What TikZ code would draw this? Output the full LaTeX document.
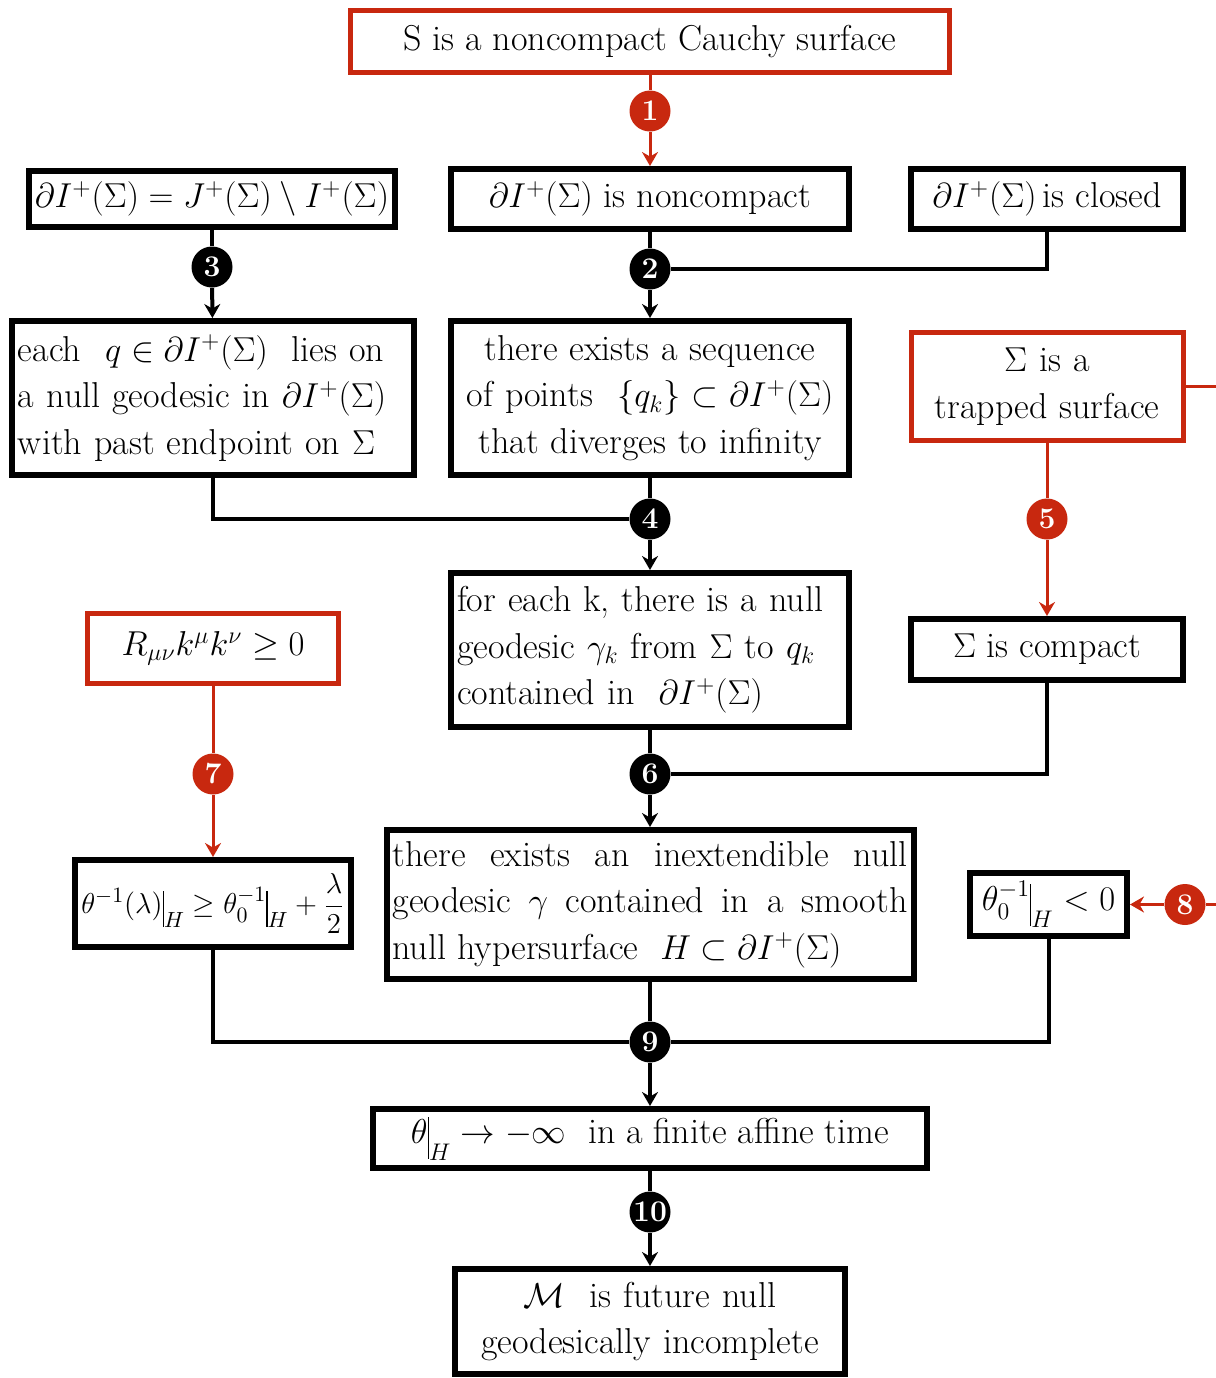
\documentclass[tikz,border=0pt]{standalone}
\usepackage{amsmath}
\usetikzlibrary{arrows.meta,positioning}
\definecolor{ruby}{RGB}{200,40,15}
\newcommand{\atbar}{\mathord{\vrule height 1.7ex depth 1.0ex width 0.7pt}}

\begin{document}
\begin{tikzpicture}
[x=0.5pt,y=-0.5pt,
 box/.style={draw,line width=3pt,inner sep=3pt,font=\fontsize{18}{23.25}\selectfont},
 redbox/.style={box,draw=ruby,line width=2.5pt},
 num/.style={circle,fill=black,text=white,minimum size=20.5pt,inner sep=0pt,font=\bfseries\fontsize{15}{15}\selectfont},
 rnum/.style={num,fill=ruby},
 link/.style={line width=2pt},
 rlink/.style={line width=1.5pt,draw=ruby},
 tip/.style={-{Stealth[length=7pt,width=8pt]}}]
\useasboundingbox (0,0) rectangle (1216,1378);
% boxes
\node[redbox,minimum width=299.5pt,minimum height=31pt] (cauchy) at (650,41.5) {S is a noncompact Cauchy surface};
\node[box,minimum width=183pt,minimum height=28pt] (bdry) at (212,199) {$\partial I^{+}(\Sigma)=J^{+}(\Sigma)\setminus I^{+}(\Sigma)$};
\node[box,minimum width=199pt,minimum height=30pt] (noncpt) at (650,199) {$\partial I^{+}(\Sigma)$ is noncompact};
\node[box,minimum width=136pt,minimum height=30pt] (closed) at (1047,199) {$\partial I^{+}(\Sigma)$\,is closed};
\node[box,text width=195pt,align=left,minimum height=77pt] (geod) at (213,398) {each~ $q\in\partial I^{+}(\Sigma)$ ~lies on\\a null geodesic in $\partial I^{+}(\Sigma)$\\with past endpoint on $\Sigma$};
\node[box,text width=193pt,align=center,minimum height=77pt] (seq) at (650,398) {there exists a sequence\\of points ~$\{q_k\}\subset\partial I^{+}(\Sigma)$\\that diverges to infinity};
\node[redbox,text width=130pt,align=center,minimum height=54pt] (trapped) at (1047,386.5) {$\Sigma$ is a\\trapped surface};
\node[box,text width=193pt,align=left,minimum height=77pt] (gamk) at (650,650) {for each k, there is a null\\geodesic $\gamma_k$ from $\Sigma$ to $q_k$\\contained in ~$\partial I^{+}(\Sigma)$};
\node[box,minimum width=136pt,minimum height=30.5pt] (compact) at (1047,649.5) {$\Sigma$ is compact};
\node[redbox,minimum width=125.5pt,minimum height=35pt] (energy) at (213,648.5) {$R_{\mu\nu}k^{\mu}k^{\nu}\geq 0$};
\node[box,minimum width=138pt,minimum height=43.5pt,inner sep=1pt,font=\fontsize{15.3}{19}\selectfont] (raych) at (213,903.5) {$\theta^{-1}(\lambda)\atbar_{H}\geq\theta_{0}^{-1}\atbar_{H}+\dfrac{\lambda}{2}$};
\node[box,text width=257.5pt,align=justify,minimum height=74.5pt] (hyper) at (650,904.5) {there exists an inextendible null geodesic $\gamma$ contained in a smooth null hypersurface ~$H\subset\partial I^{+}(\Sigma)$};
\node[box,minimum width=78.5pt,minimum height=31.5pt] (negative) at (1048.5,904.5) {$\theta_{0}^{-1}\atbar_{H}<0$};
\node[box,minimum width=277pt,minimum height=29.5pt] (focus) at (650,1138.5) {$\theta\atbar_{H}\to-\infty$ ~in a finite affine time};
\node[box,text width=189pt,align=center,minimum height=52.5pt] (incompl) at (650,1321.5) {$\mathcal{M}$ ~is future null\\geodesically incomplete};
% numbered steps
\node[rnum] (s1) at (650,111) {1};
\node[num] (s2) at (650,269) {2};
\node[num] (s3) at (212,267) {3};
\node[num] (s4) at (650,519) {4};
\node[rnum] (s5) at (1047,519) {5};
\node[num] (s6) at (650,774) {6};
\node[rnum] (s7) at (213,774) {7};
\node[rnum] (s8) at (1185,904.5) {8};
\node[num] (s9) at (650,1042) {9};
\node[num] (s10) at (650,1212) {10};
\coordinate (trapout) at (1216,386.5);
\coordinate (negin) at (1216,904.5);
% connectors
\draw[rlink] (cauchy) -- (s1); \draw[rlink,tip] (s1) -- (noncpt);
\draw[link] (noncpt) -- (s2); \draw[link] (closed) |- (s2); \draw[link,tip] (s2) -- (seq);
\draw[link] (bdry) -- (s3); \draw[link,tip] (s3) -- (geod);
\draw[link] (seq) -- (s4); \draw[link] (geod) |- (s4); \draw[link,tip] (s4) -- (gamk);
\draw[rlink] (trapped) -- (s5); \draw[rlink,tip] (s5) -- (compact);
\draw[link] (gamk) -- (s6); \draw[link] (compact) |- (s6); \draw[link,tip] (s6) -- (hyper);
\draw[rlink] (energy) -- (s7); \draw[rlink,tip] (s7) -- (raych);
\draw[rlink] (trapped) -- (trapout); \draw[rlink] (negin) -- (s8); \draw[rlink,tip] (s8) -- (negative);
\draw[link] (hyper) -- (s9); \draw[link] (raych) |- (s9); \draw[link] (negative) |- (s9); \draw[link,tip] (s9) -- (focus);
\draw[link] (focus) -- (s10); \draw[link,tip] (s10) -- (incompl);
\end{tikzpicture}
\end{document}
